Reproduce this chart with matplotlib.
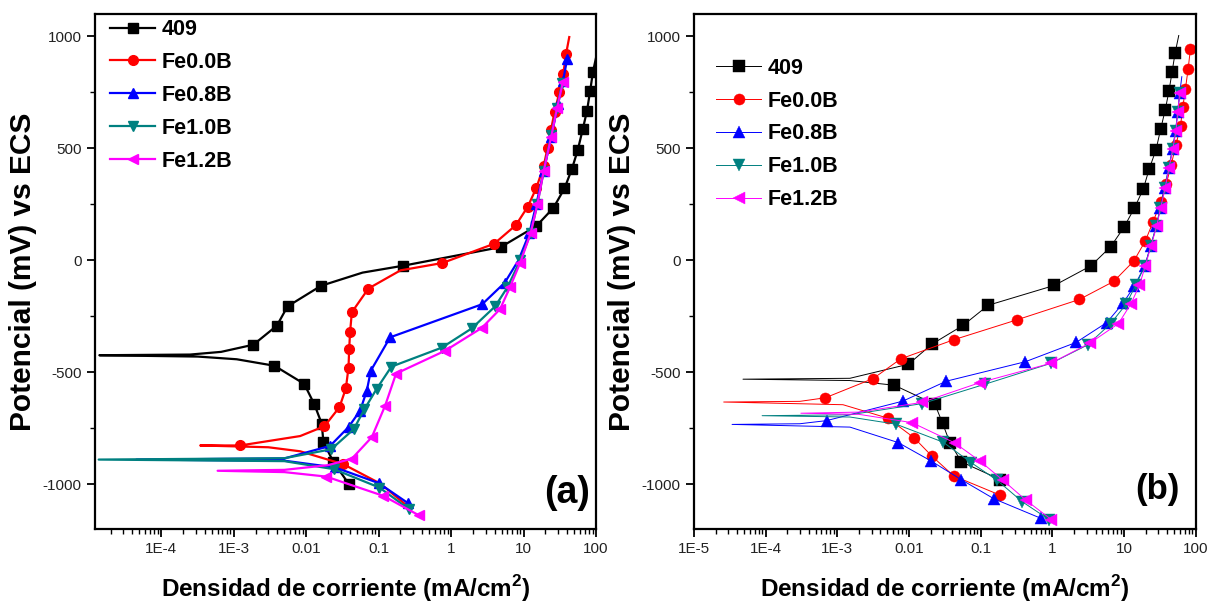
import matplotlib
matplotlib.use("Agg")
import matplotlib.pyplot as plt
from matplotlib import font_manager
from matplotlib.ticker import LogLocator, NullFormatter, MultipleLocator

# Fonts: a narrow bold face like the original figure, if there is one
names = {f.name for f in font_manager.fontManager.ttflist}
narrow = "Liberation Sans Narrow" if "Liberation Sans Narrow" in names else "Liberation Sans"
plt.rcParams["font.family"] = [narrow, "DejaVu Sans"]
plt.rcParams["mathtext.fontset"] = "custom"
plt.rcParams["mathtext.rm"] = narrow
plt.rcParams["mathtext.bf"] = narrow + ":bold"
plt.rcParams["axes.unicode_minus"] = False

# ---- Panel (a) data: current density (mA/cm2), potential (mV) ----
a409_i = [0.0384, 0.0238, 0.0173, 0.0164, 0.0130, 0.0094, 0.00365, 1.1e-3, 3.2e-4, 1.4e-5, 2.5e-4, 6.7e-4,
          0.00187, 0.00394, 0.00553, 0.016, 0.06, 0.22, 4.85, 15, 25.8, 36.7, 46.6, 56, 65.5, 75, 83, 90.6, 100]
a409_e = [-997, -901, -812, -730, -644, -552, -471, -442, -430, -424, -421, -409,
          -377, -292, -206, -114, -55, -24, 59, 153, 234, 321, 409, 493, 585, 667, 757, 841, 905]
a409_nomark = [7, 8, 9, 10, 11, 16, 28]

a00_i = [0.255, 0.105, 0.0327, 8.26e-3, 3e-3, 3.45e-4, 1.23e-3, 8.26e-3, 0.0179, 0.0288, 0.0353, 0.0384,
         0.0392, 0.0404, 0.0427, 0.0723, 0.2, 0.76, 3.93, 7.83, 11.4, 15.0, 18.9, 21.4, 23.9, 26.8, 31.2,
         35.3, 38.5, 42.7]
a00_e = [-1100, -997, -911, -853, -835, -827, -827, -785, -741, -656, -572, -479,
         -397, -319, -232, -126, -45, -12, 74, 157, 239, 323, 419, 501, 582, 664, 750,
         831, 920, 997]
a00_nomark = [0, 1, 3, 4, 5, 7, 16, 29]

a08_i = [0.258, 0.1, 0.025, 5e-3, 4.55e-5, 5e-3, 0.0214, 0.0384, 0.0556, 0.0687, 0.078, 0.144, 2.69, 5.5,
         8.5, 12, 15, 19, 24, 30, 35, 40]
a08_e = [-1086, -995, -925, -895, -890, -885, -829, -745, -671, -582, -493, -344, -196, -100,
         0, 120, 250, 400, 550, 700, 800, 900]
a08_nomark = [3, 4, 5, 14]

a10_i = [0.264, 0.1026, 0.0242, 5e-3, 1.37e-5, 5e-3, 0.0222, 0.0454, 0.0637, 0.094, 0.15, 0.746, 1.93,
         4.05, 6, 9, 12.5, 15.5, 19, 24, 29, 34]
a10_e = [-1112, -1015, -933, -897, -890, -884, -844, -754, -665, -574, -475, -390, -304,
         -206, -120, 0, 120, 250, 400, 560, 680, 790]
a10_nomark = [3, 4, 5]

a12_i = [0.355, 0.116, 0.0189, 5e-3, 6e-4, 5e-3, 0.02, 0.0427, 0.0805, 0.123, 0.174, 0.826, 2.65, 4.74,
         6.5, 9, 12.5, 15.5, 19, 24, 29, 35]
a12_e = [-1138, -1052, -966, -946, -940, -936, -915, -886, -790, -649, -506, -404, -302, -218,
         -120, -10, 120, 250, 400, 550, 680, 797]
a12_nomark = [3, 4, 5, 6]

# ---- Panel (b) data ----
b409_i = [0.189, 0.0538, 0.0372, 0.0294, 0.0230, 0.00624, 1.5e-3, 4.83e-5, 1.5e-3, 0.00984, 0.0208, 0.0572,
          0.127, 1.07, 3.44, 6.53, 10, 14, 18.6, 22.4, 27.9, 32.4, 37.5, 42.4, 46.8, 51.6, 58]
b409_e = [-980, -900, -814, -728, -643, -558, -537, -531, -527, -464, -375, -290,
          -201, -112, -25, 61, 148, 234, 319, 407, 493, 585, 671, 756, 841, 926, 1004]
b409_nomark = [6, 7, 8, 26]

b00_i = [0.184, 0.042, 0.0208, 0.0118, 5.06e-3, 1.2e-3, 2.6e-5, 3e-4, 6.8e-4, 3.17e-3, 7.69e-3, 0.042, 0.32,
         2.38, 7.2, 13.7, 19.8, 25.3, 32.4, 38.9, 45.6, 53, 61.4, 66, 72, 78.5, 84.5]
b00_e = [-1048, -963, -874, -793, -705, -645, -633, -630, -614, -528, -440, -355, -266,
         -175, -94, -3, 86, 170, 259, 342, 427, 516, 600, 683, 767, 856, 945]
b00_nomark = [5, 6, 7]

b08_i = [0.70, 0.153, 0.0538, 0.0205, 7.06e-3, 1.5e-3, 3.4e-5, 3e-4, 7.1e-4, 8.2e-3, 0.0331, 0.42, 2.14,
         5.75, 9.68, 14, 19.5, 23.5, 28.3, 32, 37, 42, 47.5, 52.5, 56, 60, 64]
b08_e = [-1153, -1065, -980, -897, -814, -745, -733, -730, -716, -629, -540, -453, -367,
         -278, -192, -114, -25, 64, 153, 234, 323, 412, 496, 579, 664, 748, 820]
b08_nomark = [5, 6, 7, 26]

b10_i = [0.91, 0.383, 0.170, 0.0741, 0.0298, 6.6e-3, 1.5e-3, 8.93e-5, 1.5e-3, 0.0153, 0.116, 0.96, 3.1,
         6.5, 10.7, 14.5, 19.5, 23.5, 28.3, 32, 37, 42, 47.5, 52.5, 56, 60]
b10_e = [-1159, -1079, -983, -904, -812, -732, -700, -694, -690, -640, -553, -460, -378,
         -283, -196, -112, -25, 64, 153, 234, 323, 412, 496, 579, 664, 748]
b10_nomark = [6, 7, 8]

b12_i = [0.97, 0.43, 0.206, 0.099, 0.0432, 0.011, 2e-3, 3.1e-4, 2e-3, 0.0150, 0.098, 0.95, 3.37,
         8.34, 12.4, 16.4, 19.8, 23.8, 28.6, 32.4, 37.5, 42.4, 48, 53, 56.3, 59.9]
b12_e = [-1158, -1072, -983, -898, -815, -725, -688, -683, -678, -635, -546, -460, -369,
         -283, -196, -112, -25, 64, 153, 234, 323, 412, 496, 579, 664, 748]
b12_nomark = [6, 7, 8]

labels = ["409", "Fe0.0B", "Fe0.8B", "Fe1.0B", "Fe1.2B"]
colors = ["black", "#ff0000", "#0000ff", "#008080", "#ff00ff"]
markers = ["s", "o", "^", "v", "<"]

tick_vals = [1e-5, 1e-4, 1e-3, 0.01, 0.1, 1, 10, 100]
tick_text = ["1E-5", "1E-4", "1E-3", "0.01", "0.1", "1", "10", "100"]


def style_axes(ax, xmin):
    ax.set_xscale("log")
    ax.set_xticks(tick_vals, tick_text)
    ax.set_xlim(xmin, 100)
    ax.set_ylim(-1200, 1100)
    ax.xaxis.set_minor_locator(LogLocator(base=10, subs=range(2, 10), numticks=20))
    ax.xaxis.set_minor_formatter(NullFormatter())
    ax.yaxis.set_major_locator(MultipleLocator(500))
    ax.yaxis.set_minor_locator(MultipleLocator(250))
    ax.tick_params(which="major", direction="out", length=6, width=1.3, labelsize=11,
                   labelcolor="#222222", top=False, right=False)
    ax.tick_params(which="minor", direction="out", length=3.5, width=1.0, top=False, right=False)
    for s in ax.spines.values():
        s.set_linewidth(1.6)
    ax.set_ylabel("Potencial (mV) vs ECS", family=["Liberation Sans", "DejaVu Sans"],
                  fontweight="bold", fontsize=21.5, labelpad=4)
    ax.set_xlabel(r"Densidad de corriente (mA/cm$^{\mathbf{2}}$)", fontweight="bold",
                  fontsize=17.5, labelpad=12)


fig = plt.figure(figsize=(12.09, 6.09), dpi=100)
ax1 = fig.add_axes([0.0786, 0.1314, 0.4144, 0.8456])
ax2 = fig.add_axes([0.574, 0.1314, 0.415, 0.8456])

series_a = [(a409_i, a409_e, a409_nomark), (a00_i, a00_e, a00_nomark), (a08_i, a08_e, a08_nomark),
            (a10_i, a10_e, a10_nomark), (a12_i, a12_e, a12_nomark)]
series_b = [(b409_i, b409_e, b409_nomark), (b00_i, b00_e, b00_nomark), (b08_i, b08_e, b08_nomark),
            (b10_i, b10_e, b10_nomark), (b12_i, b12_e, b12_nomark)]

for (xi, ye, nm), lab, c, m in zip(series_a, labels, colors, markers):
    marks = [k for k in range(len(xi)) if k not in nm]
    ax1.plot(xi, ye, color=c, lw=1.6, marker=m, ms=7, markevery=marks, label=lab)

for (xi, ye, nm), lab, c, m in zip(series_b, labels, colors, markers):
    marks = [k for k in range(len(xi)) if k not in nm]
    ax2.plot(xi, ye, color=c, lw=0.7, marker=m, ms=8, markevery=marks, label=lab,
             markeredgewidth=0.3)

style_axes(ax1, 1.22e-5)
style_axes(ax2, 1e-5)

leg_kw = dict(frameon=False, loc="upper left", borderpad=0, borderaxespad=0, numpoints=1,
              handlelength=2.1, handletextpad=0.3, labelspacing=0.55,
              prop={"family": narrow, "weight": "bold", "size": 15.5})
ax1.legend(bbox_to_anchor=(0.03, 0.99), **leg_kw)
ax2.legend(bbox_to_anchor=(0.044, 0.915), **leg_kw)

ax1.text(0.942, 0.07, "(a)", transform=ax1.transAxes, ha="center", va="center",
         fontsize=27, fontweight="bold")
ax2.text(0.924, 0.076, "(b)", transform=ax2.transAxes, ha="center", va="center",
         fontsize=25, fontweight="bold")

fig.savefig("out.png", dpi=100)
